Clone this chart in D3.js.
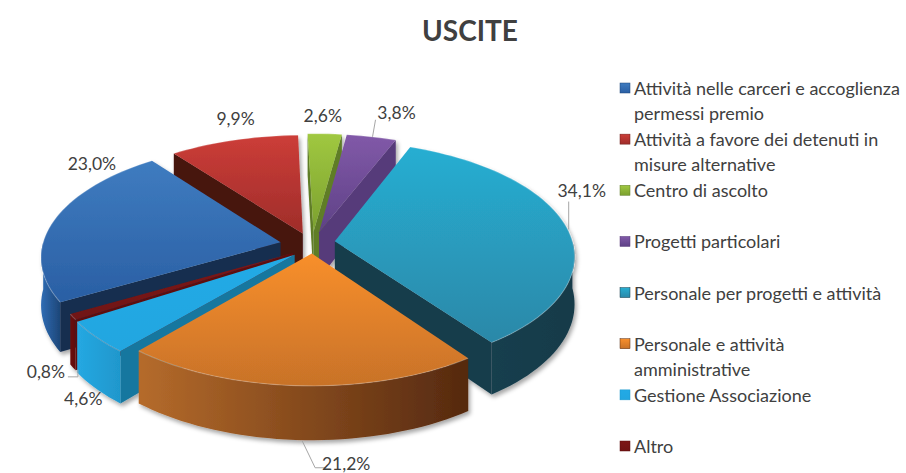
<!DOCTYPE html>
<html>
<head>
<meta charset="utf-8">
<script src="https://cdn.jsdelivr.net/npm/d3@7/dist/d3.min.js"></script>
<style>
  html, body { margin: 0; padding: 0; background: #fff; }
  text { font-family: Lato, "Open Sans", sans-serif; fill: #404040; }
</style>
</head>
<body>
<div id="chart"></div>
<script>
"use strict";

// Data
const titleText = "USCITE";
const categories = [
  ["Attività nelle carceri e accoglienza", "permessi premio"],
  ["Attività a favore dei detenuti in", "misure alternative"],
  ["Centro di ascolto"],
  ["Progetti particolari"],
  ["Personale per progetti e attività"],
  ["Personale e attività", "amministrative"],
  ["Gestione Associazione"],
  ["Altro"]
];
const values = [23.0, 9.9, 2.6, 3.8, 34.1, 21.2, 4.6, 0.8];
const valueLabels = ["23,0%", "9,9%", "2,6%", "3,8%", "34,1%", "21,2%", "4,6%", "0,8%"];

// Colours: top gradient (light, dark), radial wall, outer wall gradient (light, dark)
const topLight = ["#3f7cc0", "#cc3d38", "#a0c840", "#8159a8", "#27aed2", "#f88f2c", "#22aae6", "#7d1515"];
const topDark = ["#2a5fa4", "#9f2d2a", "#7ba02f", "#5e4186", "#2b88a8", "#c87228", "#22a6e0", "#701212"];
const sideColor = ["#142f50", "#47130f", "#5f7d28", "#573a7a", "#153c4b", "#52290f", "#17779f", "#5e0f0f"];
const wallLight = ["#2f6cb4", "#8c2522", "#7ba02f", "#6a4a94", "#173f4e", "#b56b2b", "#25a8e2", "#6b1111"];
const wallDark = ["#1d4678", "#6d1c1a", "#5f7d28", "#573a7a", "#153a49", "#55290f", "#1f97cc", "#5e0f0f"];

// Small nudges of each exploded slice, the original's perspective is not quite regular
const sliceShift = [[0, 2], [4, 3], [4, 2], [4, 2], [-1, 0], [5, -3], [8, 3], [9, 3]];

// Label placement relative to the rim middle of each slice
const labelOffset = [[38, -55], [6, -19], [2, -16], [29, -22], [14, -37], [51, 75], [-5, 64], [-18, 58]];
const leaderOffset = [null, null, null,
  [[5, 2], [8, -15]],
  [[1, 2], [1, -26]],
  [[7, 52], [20, 79], [30, 79]],
  null,
  [[4, 63], [14, 63], [14, 56]]];

const width = 906, height = 473;
const pieCenter = { x: 308, y: 243 };
const radiusX = 238, radiusY = 113, perspective = 0.12, depth = 47, explode = 0.118;
const deg = Math.PI / 180;

const svg = d3.select("#chart").append("svg")
  .attr("width", width)
  .attr("height", height)
  .style("display", "block");

const defs = svg.append("defs");

// Soft shadow under the pie
const shadow = defs.append("filter").attr("id", "shadow")
  .attr("x", "-10%").attr("y", "-10%").attr("width", "120%").attr("height", "120%");
shadow.append("feDropShadow")
  .attr("dx", 2).attr("dy", 3).attr("stdDeviation", 2)
  .attr("flood-color", "#000").attr("flood-opacity", 0.35);

values.forEach((v, i) => {
  const t = defs.append("linearGradient").attr("id", "top" + i)
    .attr("x1", 0).attr("y1", 0).attr("x2", 0).attr("y2", 1);
  t.append("stop").attr("offset", "0%").attr("stop-color", topLight[i]);
  t.append("stop").attr("offset", "100%").attr("stop-color", topDark[i]);
  const w = defs.append("linearGradient").attr("id", "wall" + i)
    .attr("x1", 0).attr("y1", 0).attr("x2", 1).attr("y2", 0);
  w.append("stop").attr("offset", "0%").attr("stop-color", wallLight[i]);
  w.append("stop").attr("offset", "100%").attr("stop-color", wallDark[i]);
});

// Projects a point of the disc (u to the right, v to the viewer) on the screen
function project(u, v, drop) {
  const s = 1 / (1 - perspective * v);
  return [pieCenter.x + radiusX * u * s, pieCenter.y + radiusY * v * s + (drop || 0) * s];
}

const pie = d3.pie().sort(null).value(d => d).startAngle(240 * deg).endAngle(600 * deg);
const slices = pie(values).map((d, i) => {
  const mid = (d.startAngle + d.endAngle) / 2;
  return { i: i, a0: d.startAngle, a1: d.endAngle, mid: mid,
    ox: explode * Math.sin(mid), oy: -explode * Math.cos(mid) };
});

const line = d3.line();

function rimPoints(s, a0, a1, drop) {
  const n = Math.max(2, Math.ceil((a1 - a0) / (2 * deg)));
  return d3.range(n + 1).map(k => {
    const a = a0 + (a1 - a0) * k / n;
    return project(s.ox + Math.sin(a), s.oy - Math.cos(a), drop);
  });
}

const pieG = svg.append("g").attr("filter", "url(#shadow)");

// Back slices first, front slices paint over them
slices.slice().sort((a, b) => a.oy - b.oy).forEach(s => {
  const g = pieG.append("g")
    .attr("transform", `translate(${sliceShift[s.i][0]},${sliceShift[s.i][1]})`);

  // Radial walls facing the viewer
  [[s.a0, -1], [s.a1, 1]].forEach(([a, side]) => {
    if (side * Math.sin(a) <= 0) return;
    const apexTop = project(s.ox, s.oy, 0), apexBottom = project(s.ox, s.oy, depth);
    const rimTop = project(s.ox + Math.sin(a), s.oy - Math.cos(a), 0);
    const rimBottom = project(s.ox + Math.sin(a), s.oy - Math.cos(a), depth);
    g.append("path")
      .attr("d", line([apexTop, rimTop, rimBottom, apexBottom]) + "Z")
      .attr("fill", sideColor[s.i]);
  });

  // Outer wall, only the part turned to the viewer
  [[90, 270], [450, 630]].forEach(([lo, hi]) => {
    const a0 = Math.max(s.a0, lo * deg), a1 = Math.min(s.a1, hi * deg);
    if (a1 <= a0) return;
    const pts = rimPoints(s, a0, a1, 0).concat(rimPoints(s, a0, a1, depth).reverse());
    g.append("path")
      .attr("d", line(pts) + "Z")
      .attr("fill", `url(#wall${s.i})`);
  });

  // Top face
  const topPts = [project(s.ox, s.oy, 0)].concat(rimPoints(s, s.a0, s.a1, 0));
  g.append("path")
    .attr("d", line(topPts) + "Z")
    .attr("fill", `url(#top${s.i})`);

  // Thin bright bevel along the rim
  g.append("path")
    .attr("d", line(rimPoints(s, s.a0, s.a1, 0)))
    .attr("fill", "none")
    .attr("stroke", "#fff")
    .attr("stroke-opacity", 0.22)
    .attr("stroke-width", 1.2);
});

// Value labels and leader lines
slices.forEach(s => {
  const rim = project(s.ox + Math.sin(s.mid), s.oy - Math.cos(s.mid), 0);
  const lead = leaderOffset[s.i];
  if (lead) {
    svg.append("path")
      .attr("d", line(lead.map(p => [rim[0] + p[0], rim[1] + p[1]])))
      .attr("fill", "none")
      .attr("stroke", "#a6a6a6")
      .attr("stroke-width", 1);
  }
  svg.append("text")
    .attr("x", rim[0] + labelOffset[s.i][0])
    .attr("y", rim[1] + labelOffset[s.i][1])
    .attr("text-anchor", "middle")
    .attr("dominant-baseline", "central")
    .style("font-size", "17.5px")
    .text(valueLabels[s.i]);
});

// Title
svg.append("text")
  .attr("x", 470)
  .attr("y", 30)
  .attr("text-anchor", "middle")
  .attr("dominant-baseline", "central")
  .style("font-size", "28px")
  .style("font-weight", "700")
  .text(titleText);

// Legend
const legendY = d3.scaleLinear().domain([0, categories.length - 1]).range([88, 446]);
const legend = svg.append("g").selectAll("g").data(categories).join("g")
  .attr("transform", (d, i) => `translate(620,${legendY(i)})`);

legend.append("rect")
  .attr("x", 0).attr("y", -5)
  .attr("width", 10).attr("height", 10)
  .attr("fill", (d, i) => `url(#top${i})`)
  .attr("stroke", (d, i) => wallDark[i])
  .attr("stroke-width", 0.5);

legend.each(function(lines) {
  d3.select(this).selectAll("text").data(lines).join("text")
    .attr("x", 14)
    .attr("y", (d, k) => k * 25)
    .attr("dominant-baseline", "central")
    .style("font-size", "18px")
    .text(d => d);
});
</script>
</body>
</html>
